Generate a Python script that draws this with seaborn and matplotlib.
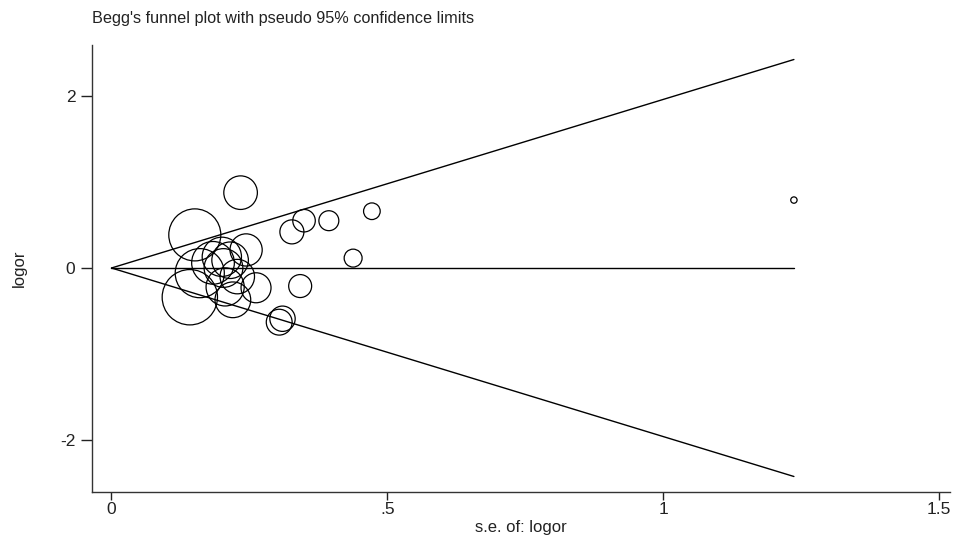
import numpy as np
import pandas as pd
import matplotlib
matplotlib.use("Agg")
import matplotlib.pyplot as plt
import seaborn as sns

# study standard errors and log odds ratios
se = [0.234, 0.151, 0.327, 0.349, 0.394, 0.472, 0.438, 0.342, 0.304, 0.310,
      0.244, 0.142, 0.220, 0.262, 0.160, 0.184, 0.215, 0.206, 0.228, 0.200,
      0.203, 1.237]
logor = [0.876, 0.385, 0.42, 0.55, 0.55, 0.66, 0.115, -0.21, -0.63, -0.59,
         0.21, -0.34, -0.37, -0.23, -0.06, 0.06, 0.09, -0.22, -0.10, 0.13,
         0.00, 0.79]
pooled = 0.0
z = 1.96
xticks = [0, 0.5, 1, 1.5]
xtick_labels = ["0", ".5", "1", "1.5"]
yticks = [-2, 0, 2]
ytick_labels = ["-2", "0", "2"]
title = "Begg's funnel plot with pseudo 95% confidence limits"
xlabel = "s.e. of: logor"
ylabel = "logor"

sns.set_theme(style="white")
plt.rcParams['font.family'] = ['Liberation Sans', 'DejaVu Sans']

df = pd.DataFrame({"se": se, "logor": logor})
df["w"] = 1.0 / df["se"] ** 2

fig = plt.figure(figsize=(9.55, 5.43), dpi=100)
ax = fig.add_axes([0.0963, 0.0939, 0.8985, 0.8232])

k = 32.0
wmin, wmax = df["w"].min(), df["w"].max()
sns.scatterplot(data=df, x="se", y="logor", size="w",
                sizes=(wmin * k, wmax * k), size_norm=(wmin, wmax),
                facecolor="none", edgecolor="black", linewidth=0.9,
                legend=False, ax=ax, zorder=3)

smax = max(se)
lines = pd.DataFrame({"x": [0, smax], "upper": [pooled, pooled + z * smax],
                      "lower": [pooled, pooled - z * smax],
                      "mid": [pooled, pooled]})
for col in ["upper", "lower", "mid"]:
    sns.lineplot(data=lines, x="x", y=col, color="black", linewidth=1.0, ax=ax)

ax.set_xlim(-0.0354, 1.52)
ax.set_ylim(-2.605, 2.593)
ax.set_xticks(xticks)
ax.set_xticklabels(xtick_labels)
ax.set_yticks(yticks)
ax.set_yticklabels(ytick_labels)
ax.tick_params(axis="x", length=6, width=1, pad=1, labelsize=12.5, colors="#222222", bottom=True)
ax.tick_params(axis="y", length=8, width=1, pad=4, labelsize=12.5, colors="#222222", left=True)
ax.set_xlabel(xlabel, fontsize=12, labelpad=2, color="#222222")
ax.set_ylabel(ylabel, fontsize=12, labelpad=24, color="#222222")
for s in ["top", "right"]:
    ax.spines[s].set_visible(False)
for s in ["left", "bottom"]:
    ax.spines[s].set_color("#333333")
    ax.spines[s].set_linewidth(1.0)
fig.text(92 / 955, 1 - 18 / 543, title, fontsize=11.7, color="#222222",
         ha="left", va="center")
ax.grid(False)
fig.savefig("out.png", dpi=100, facecolor="white")
